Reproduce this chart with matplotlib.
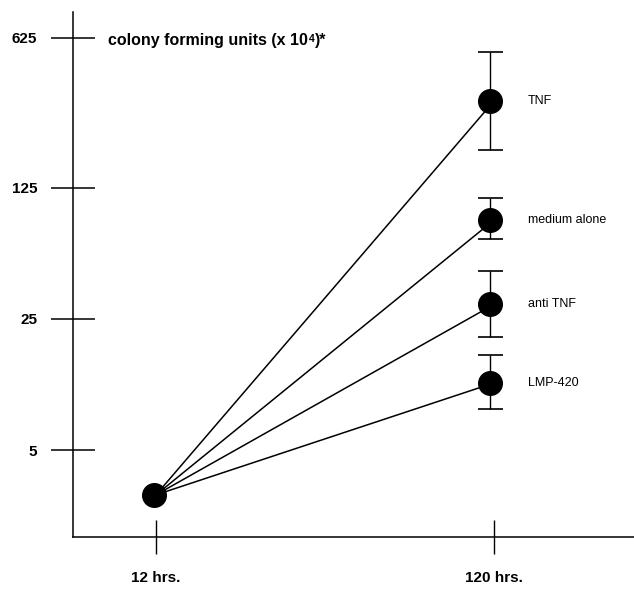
import numpy as np
import matplotlib
matplotlib.use("Agg")
import matplotlib.pyplot as plt
from matplotlib.ticker import FixedLocator, NullLocator, NullFormatter

plt.rcParams['font.family'] = ['Liberation Sans', 'DejaVu Sans']

# ---- data ----
time_labels = ["12 hrs.", "120 hrs."]
groups = ["TNF", "medium alone", "anti TNF", "LMP-420"]
start_value = 2.9
end_values = [317, 84, 29.8, 11.4]
err_upper = [535, 110.7, 44.9, 16.0]
err_lower = [187, 66.5, 20.1, 8.3]
y_ticks = [5, 25, 125, 625]
y_tick_labels = ["5", "25", "125", "625"]
title_main = "colony forming units (x 10"
title_sup = "4"
title_end = ")*"

# ---- axis scale: base-5 log scale as drawn (upper decade slightly stretched) ----
knots_u = np.log(np.array(y_ticks, dtype=float)) / np.log(5)
knots_p = np.array([0.0, 131.6, 262.6, 412.6])

def fwd(v):
    v = np.asarray(v, dtype=float)
    u = np.log(np.clip(v, 1e-9, None)) / np.log(5)
    p = np.interp(u, knots_u, knots_p)
    lo = u < knots_u[0]
    hi = u > knots_u[-1]
    p = np.where(lo, (u - knots_u[0]) * 131.6, p)
    p = np.where(hi, knots_p[-1] + (u - knots_u[-1]) * 150.0, p)
    return p

def inv(p):
    p = np.asarray(p, dtype=float)
    u = np.interp(p, knots_p, knots_u)
    u = np.where(p < 0, knots_u[0] + p / 131.6, u)
    u = np.where(p > knots_p[-1], knots_u[-1] + (p - knots_p[-1]) / 150.0, u)
    return np.power(5.0, u)

W, H = 634, 590
fig = plt.figure(figsize=(W / 100, H / 100), dpi=100)
left_px, bottom_px, top_px = 72.7, 537, 12
ax = fig.add_axes([left_px / W, 1 - bottom_px / H, 1 - left_px / W, (bottom_px - top_px) / H])

ax.set_yscale('function', functions=(fwd, inv))
ax.set_ylim(inv(450.3 - bottom_px), inv(450.3 - top_px))

xs = [0, 1]
ax.set_xlim(-0.2464, 1.4142)

# lines
for v in end_values:
    ax.plot(xs, [start_value, v], color='black', lw=1.1, zorder=2)

# error bars
yerr = np.array([np.array(end_values) - np.array(err_lower),
                 np.array(err_upper) - np.array(end_values)])
ax.errorbar([xs[1] - 0.013] * len(end_values), end_values, yerr=yerr, fmt='none',
            ecolor='black', elinewidth=1.0, capsize=9, capthick=1.2, zorder=3)

# markers
ax.plot([xs[1] - 0.013] * len(end_values), end_values, 'o', color='black', ms=17, zorder=4)
ax.plot([xs[0] - 0.005], [start_value], 'o', color='black', ms=17, zorder=4)

# group labels
for g, v in zip(groups, end_values):
    ax.text(1.1, v, g, fontsize=9, va='center', ha='left')

# spines
for s in ['top', 'right']:
    ax.spines[s].set_visible(False)
ax.spines['left'].set_linewidth(1.1)
ax.spines['bottom'].set_linewidth(1.1)

# ticks
ax.yaxis.set_major_locator(FixedLocator(y_ticks))
ax.yaxis.set_minor_locator(NullLocator())
ax.yaxis.set_minor_formatter(NullFormatter())
ax.set_yticklabels(y_tick_labels, fontweight='bold', fontsize=11)
ax.tick_params(axis='y', direction='inout', length=31, width=1.1, pad=10)

ax.set_xticks(xs)
ax.set_xticklabels(time_labels, fontweight='bold', fontsize=11)
ax.tick_params(axis='x', direction='inout', length=25, width=1.0, pad=12)

# title with superscript built from plain text pieces
fig.canvas.draw()
r = fig.canvas.get_renderer()
t1 = fig.text(108 / W, 1 - 40 / H, title_main, fontsize=11.5, fontweight='bold',
              va='baseline', ha='left')
bb = t1.get_window_extent(r)
t1.set_va('center')
bb = t1.get_window_extent(r)
x2 = bb.x1 / W
t2 = fig.text(x2 + 1 / W, (bb.y1 - 2) / H, title_sup, fontsize=7.5, fontweight='bold',
              va='top', ha='left')
bb2 = t2.get_window_extent(r)
t3 = fig.text(bb2.x1 / W, 1 - 40 / H, title_end, fontsize=11.5, fontweight='bold',
              va='center', ha='left')

fig.savefig('out.png', dpi=100)
